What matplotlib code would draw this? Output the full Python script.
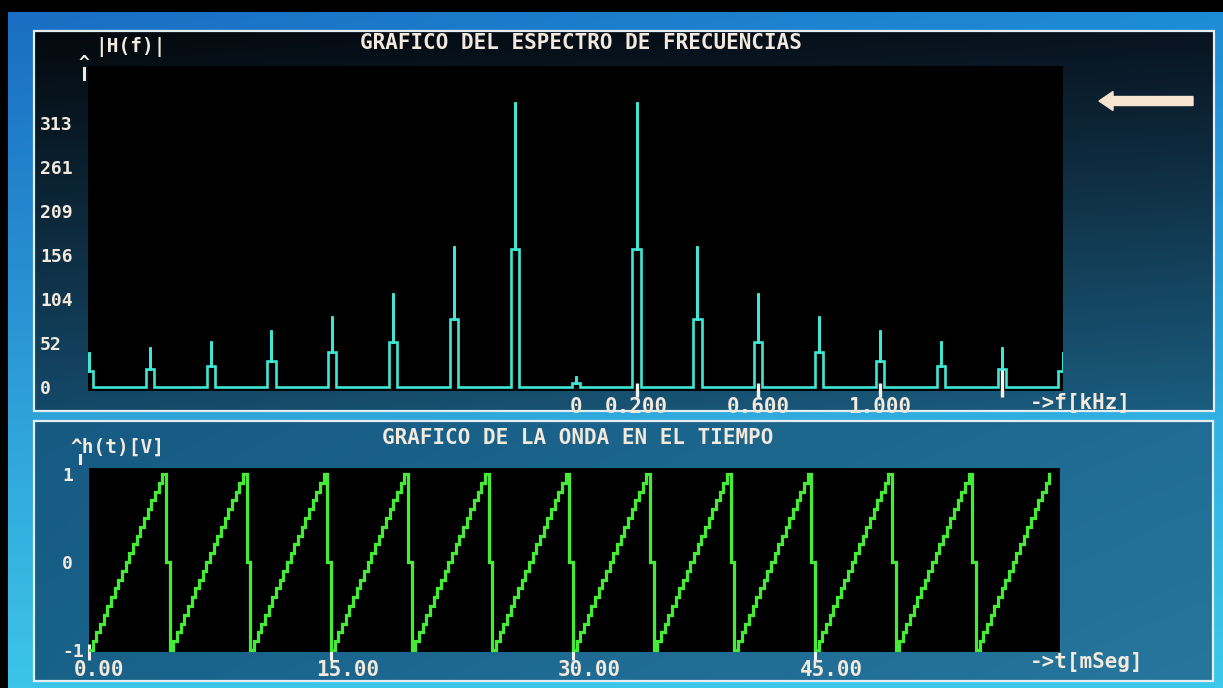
import numpy as np
import matplotlib
matplotlib.use("Agg")
import matplotlib.pyplot as plt
from matplotlib.patches import Rectangle, FancyArrow
import matplotlib.transforms as mtransforms

# ---------------- data ----------------
# spectrum |H(f)| : harmonics of a 200 Hz sawtooth (kHz), peak and shoulder values
harm_f = [-1.6, -1.4, -1.2, -1.0, -0.8, -0.6, -0.4, -0.2, 0.0,
          0.2, 0.4, 0.6, 0.8, 1.0, 1.2, 1.4, 1.6]
harm_peak = [42, 47, 55, 68, 84, 111, 167, 338, 13,
             338, 167, 111, 84, 68, 55, 47, 42]
harm_shoulder = [19, 21, 25, 31, 41, 53, 81, 164, 5,
                 164, 81, 53, 41, 31, 25, 21, 19]
f_ticks = [0.0, 0.2, 0.6, 1.0]
f_tick_labels = ["0", "0.200", "0.600", "1.000"]
f_marks = [0.2, 0.6, 1.0, 1.4]
mag_ticks = [0, 52, 104, 156, 209, 261, 313]
mag_tick_labels = ["0", "52", "104", "156", "209", "261", "313"]

# time wave h(t): samples of one period, repeated
wave_period_values = [-1.0, -0.9, -0.8, -0.7, -0.6, -0.5, -0.4, -0.3, -0.2, -0.1, 0.0,
                      0.1, 0.2, 0.3, 0.4, 0.5, 0.6, 0.7, 0.8, 0.9, 1.0, 0.0]
wave_periods = 12
period_ms = 5.0
t_ticks = [0, 15, 30, 45]
t_tick_labels = ["0.00", "15.00", "30.00", "45.00"]
h_ticks = [-1, 0, 1]
h_tick_labels = ["-1", "0", "1"]

# ---------------- style ----------------
W, H = 1223, 688
TXT = "#f3e9dc"
CYAN = "#40e6d4"
GREEN = "#44ec36"
FONT = "DejaVu Sans Mono"

fig = plt.figure(figsize=(W / 100, H / 100), dpi=100, facecolor="black")
bg = fig.add_axes([0, 0, 1, 1])
bg.set_xlim(0, W)
bg.set_ylim(H, 0)
bg.axis("off")


def grad(x0, y0, x1, y1, c00, c01, c10, c11, z=0):
    ny, nx = 60, 60
    u = np.linspace(0, 1, nx)[None, :, None]
    v = np.linspace(0, 1, ny)[:, None, None]
    c00, c01, c10, c11 = [np.array(c, float)[None, None, :] / 255 for c in (c00, c01, c10, c11)]
    img = (1 - v) * ((1 - u) * c00 + u * c01) + v * ((1 - u) * c10 + u * c11)
    bg.imshow(img, extent=(x0, x1, y1, y0), origin="upper", aspect="auto",
              interpolation="bilinear", zorder=z)


# bezel
grad(8, 12, W, H, (26, 110, 195), (30, 140, 215), (60, 196, 232), (60, 200, 235), z=0)
# top panel
grad(35, 32, 1213, 410, (4, 9, 14), (8, 20, 32), (20, 72, 104), (26, 92, 126), z=1)
bg.add_patch(Rectangle((34, 31), 1180, 380, fill=False, ec="#e4eef0", lw=1.6, zorder=2))
# bottom panel
grad(35, 422, 1212, 680, (22, 90, 130), (32, 108, 148), (24, 98, 138), (38, 118, 158), z=1)
bg.add_patch(Rectangle((34, 421), 1179, 260, fill=False, ec="#e4eef0", lw=1.6, zorder=2))

# arrow in upper right
bg.add_patch(FancyArrow(1193, 101, -80, 0, width=9, head_width=19, head_length=14,
                        length_includes_head=False, color="#f7e3cf", zorder=3))

# texts
tkw = dict(color=TXT, family=FONT, weight="bold", zorder=4)
bg.text(581, 43, "GRAFICO DEL ESPECTRO DE FRECUENCIAS", ha="center", va="center", fontsize=15, **tkw)
bg.text(95, 47, "|H(f)|", ha="left", va="center", fontsize=14, **tkw)
bg.text(84, 63, "^", ha="center", va="center", fontsize=13, **tkw)
bg.plot([84, 84], [68, 79], color=TXT, lw=2.2, zorder=4)
bg.text(1030, 403, "->f[kHz]", ha="left", va="center", fontsize=15, **tkw)
bg.text(578, 438, "GRAFICO DE LA ONDA EN EL TIEMPO", ha="center", va="center", fontsize=15, **tkw)
bg.text(70, 447, "^h(t)[V]", ha="left", va="center", fontsize=14, **tkw)
bg.plot([80, 80], [455, 463], color=TXT, lw=2.2, zorder=4)
bg.text(1030, 662, "->t[mSeg]", ha="left", va="center", fontsize=15, **tkw)

# ---------------- spectrum axes ----------------
px_per_khz = 304.25
ax1 = fig.add_axes([88 / W, 1 - 391 / H, 975 / W, 325 / H], facecolor="black")
ax1.set_xlim(-1.603, -1.603 + 975 / px_per_khz)
ax1.set_ylim(-(391 - 387) / 0.843, (387 - 66) / 0.843)
w = 0.0135
xs, ys = [], []
for f, P, S in zip(harm_f, harm_peak, harm_shoulder):
    xs += [f - w, f - w, f, f, f, f + w, f + w]
    ys += [0, S, S, P, S, S, 0]
ax1.plot(xs, ys, color=CYAN, lw=1.9, solid_joinstyle="miter")
ax1.vlines(f_marks, ymin=-12, ymax=[5, 5, 5, 20], color="#f4f4f4", lw=2.4, clip_on=False, zorder=5)
for s in ax1.spines.values():
    s.set_visible(False)
ax1.set_yticks(mag_ticks, mag_tick_labels)
ax1.set_xticks(f_ticks, f_tick_labels)
ax1.tick_params(axis="y", length=0, pad=48 * 0.72, labelsize=13, labelcolor=TXT)
ax1.tick_params(axis="x", length=0, pad=4, labelsize=15, labelcolor=TXT)
for lab in ax1.get_yticklabels():
    lab.set_ha("left")
for lab in ax1.get_yticklabels() + ax1.get_xticklabels():
    lab.set_family(FONT)
    lab.set_weight("bold")

# ---------------- time axes ----------------
px_per_ms = 16.13
ax2 = fig.add_axes([89 / W, 1 - 652 / H, 971 / W, 184 / H], facecolor="black")
ax2.set_xlim(0, 971 / px_per_ms)
ax2.set_ylim((562 - 652) / 88, (562 - 468) / 88)
values = np.tile(wave_period_values, wave_periods)[:-1]
t = np.arange(len(values)) * period_ms / len(wave_period_values)
ax2.plot(t, values, drawstyle="steps-post", color=GREEN, lw=2.3, solid_joinstyle="miter")
for s in ax2.spines.values():
    s.set_visible(False)
ax2.set_xticks(t_ticks, t_tick_labels)
ax2.set_yticks(h_ticks, h_tick_labels)
ax2.tick_params(axis="x", direction="inout", length=12, width=2.2, color="#f4f4f4",
                pad=0, labelsize=15, labelcolor=TXT)
ax2.tick_params(axis="y", length=0, pad=27 * 0.72, labelsize=13, labelcolor=TXT)
shift = mtransforms.ScaledTranslation(-15 / 100, 0, fig.dpi_scale_trans)
for lab in ax2.get_xticklabels():
    lab.set_ha("left")
    lab.set_transform(lab.get_transform() + shift)
for lab in ax2.get_yticklabels():
    lab.set_ha("left")
for lab in ax2.get_yticklabels() + ax2.get_xticklabels():
    lab.set_family(FONT)
    lab.set_weight("bold")

fig.savefig("out.png", dpi=100, facecolor="black")
